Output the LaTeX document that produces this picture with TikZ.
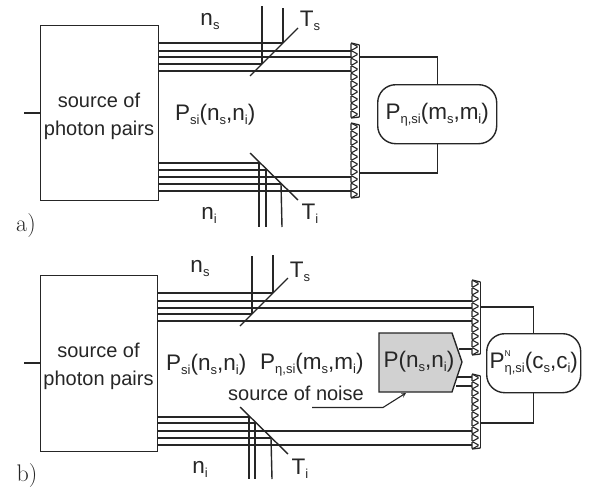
\documentclass[tikz,border=0pt]{standalone}
\usepackage{fontspec}
\setmainfont{Liberation Sans}
\newfontfamily\lblfont{Latin Modern Roman}
\begin{document}
\begin{tikzpicture}[x=1pt,y=-1pt,
  wire/.style={line width=1.4pt,draw=black!85},
  frame/.style={draw=black!85,line width=1.4pt,fill=white},
  lbl/.style={inner sep=0pt,font=\fontsize{22.5}{24}\selectfont,text=black!85},
  boxlbl/.style={inner sep=0pt,font=\fontsize{20}{23}\selectfont,text=black!85},
  tag/.style={inner sep=0pt,font=\lblfont\fontsize{24}{26}\selectfont,text=black!85},
  noise/.style={draw=black!85,line width=1.4pt,fill=black!18}]
\path[use as bounding box] (0,0) rectangle (589,490);
\newcommand{\sub}[1]{\raisebox{-4pt}{\fontsize{13}{13}\selectfont #1}}
\newcommand{\detstrip}[3]{% x, y top, count
  \foreach \k in {1,...,#3}{
    \draw[line width=1.1pt,draw=black!85,fill=white,rounded corners=1pt] (#1,{#2+(\k-1)*7.5}) -- ++(7,3.75) -- ++(-7,3.75) -- cycle;
  }
  \draw[line width=1.3pt,draw=black!85] (#1+8.5,#2+2) -- (#1+8.5,{#2+#3*7.5-1});
  \draw[line width=1.3pt,draw=black!85] (#1,#2) -- (#1+8.5,#2+2);
  \draw[line width=1.3pt,draw=black!85] (#1,{#2+#3*7.5}) -- (#1+8.5,{#2+#3*7.5-1});
}
% ---- a) ----
\node[frame,minimum width=118,minimum height=175,inner sep=0pt,anchor=north west] (srcA) at (40,25) {};
\node[boxlbl,align=center] (srcAt) at (99,116) {source of\\[5pt]photon pairs};
\coordinate (inA) at (24,113);
\draw[wire] (inA) -- (srcA.west |- inA);
\foreach \y in {51,57,71}{\draw[wire] (158,\y) -- (352,\y);}
\draw[wire] (158,43) -- (283,43);
\draw[wire] (158,64) -- (262,64);
\draw[wire] (262,6) -- (262,64);
\draw[wire] (283,8) -- (283,43);
\coordinate (msA1) at (250,76); \coordinate (msA2) at (298,28);
\draw[wire] (msA1) -- (msA2);
\foreach \y in {177,191}{\draw[wire] (158,\y) -- (352,\y);}
\foreach \y/\e in {163/259,170/266,184/281}{\draw[wire] (158,\y) -- (\e,\y);}
\draw[wire] (259,163) -- (259,227);
\draw[wire] (266,170) -- (266,227);
\draw[wire] (281,184) -- (282,227);
\coordinate (miA1) at (250,153); \coordinate (miA2) at (298,200);
\draw[wire] (miA1) -- (miA2);
\detstrip{351}{43}{10}
\detstrip{351}{123}{10}
\node[frame,lbl,rounded corners=18,minimum width=119,minimum height=59,inner sep=0pt,anchor=north west] (pA) at (377,84) {P\sub{η,si}(m\sub{s},m\sub{i})};
\coordinate (dA1) at (360,57); \coordinate (dA2) at (360,173);
\draw[wire] (dA1) -| (pA.north);
\draw[wire] (dA2) -| (pA.south);
\node[lbl,anchor=center] (nsA) at (210,22) {n\sub{s}};
\node[lbl,anchor=center] (niA) at (209,215) {n\sub{i}};
\node[lbl,anchor=center] (tsA) at (310,21) {T\sub{s}};
\node[lbl,anchor=center] (tiA) at (310,214) {T\sub{i}};
\node[lbl,anchor=west] (psA) at (175,115) {P\sub{si}(n\sub{s},n\sub{i})};
\node[tag] (la) at (26,226) {a)};
% ---- b) ----
\node[frame,minimum width=117,minimum height=176,inner sep=0pt,anchor=north west] (srcB) at (40,275) {};
\node[boxlbl,align=center] (srcBt) at (98.5,366) {source of\\[5pt]photon pairs};
\coordinate (inB) at (24,363);
\draw[wire] (inB) -- (srcB.west |- inB);
\foreach \y in {301,308,321}{\draw[wire] (157,\y) -- (473,\y);}
\draw[wire] (157,293) -- (273,293);
\draw[wire] (157,314) -- (252,314);
\draw[wire] (252,256) -- (252,314);
\draw[wire] (273,255) -- (273,293);
\coordinate (msB1) at (240,326); \coordinate (msB2) at (288,278);
\draw[wire] (msB1) -- (msB2);
\foreach \y in {431,445}{\draw[wire] (157,\y) -- (473,\y);}
\draw[wire] (157,417) -- (249,417);
\draw[wire] (157,423) -- (255,423);
\draw[wire] (157,438) -- (271,438);
\draw[wire] (249,417) -- (249,479);
\draw[wire] (255,423) -- (255,479);
\draw[wire] (271,438) -- (272,479);
\coordinate (miB1) at (240,407); \coordinate (miB2) at (288,454);
\draw[wire] (miB1) -- (miB2);
\draw[wire] (459,349) -- (473,349);
\draw[wire] (457,377) -- (473,377);
\draw[wire] (456,386) -- (473,386);
\detstrip{472}{280}{10}
\detstrip{472}{374}{10}
\draw[noise] (379,333) -- (452,333) -- (462,362) -- (452,392) -- (379,392) -- cycle;
\node[lbl,anchor=center] (pn) at (419,362) {P(n\sub{s},n\sub{i})};
\node[frame,lbl,rounded corners=18,minimum width=94,minimum height=59,inner sep=0pt,anchor=north west] (pB) at (486,333) {P\rlap{\raisebox{12pt}{\fontsize{8.5}{9}\selectfont N}}\sub{η,si}(c\sub{s},c\sub{i})};
\coordinate (dB1) at (481,307); \coordinate (dB2) at (481,423);
\draw[wire] (dB1) -| (pB.north);
\draw[wire] (dB2) -| (pB.south);
\node[lbl,anchor=center] (nsB) at (200,269) {n\sub{s}};
\node[lbl,anchor=center] (niB) at (200,469) {n\sub{i}};
\node[lbl,anchor=center] (tsB) at (300,272) {T\sub{s}};
\node[lbl,anchor=center] (tiB) at (300,469) {T\sub{i}};
\node[lbl,anchor=west] (psB) at (166,365) {P\sub{si}(n\sub{s},n\sub{i})};
\node[lbl,anchor=west] (peB) at (260,365) {P\sub{η,si}(m\sub{s},m\sub{i})};
\node[boxlbl,anchor=west] (snB) at (228,393) {source of noise};
\coordinate (ua) at (312,407.5); \coordinate (ub) at (383,407.5);
\draw[line width=1.1pt,draw=black!85,-stealth] (ua) -- (ub) -- (406,393);
\node[tag] (lb) at (27,476) {b)};
\end{tikzpicture}
\end{document}
